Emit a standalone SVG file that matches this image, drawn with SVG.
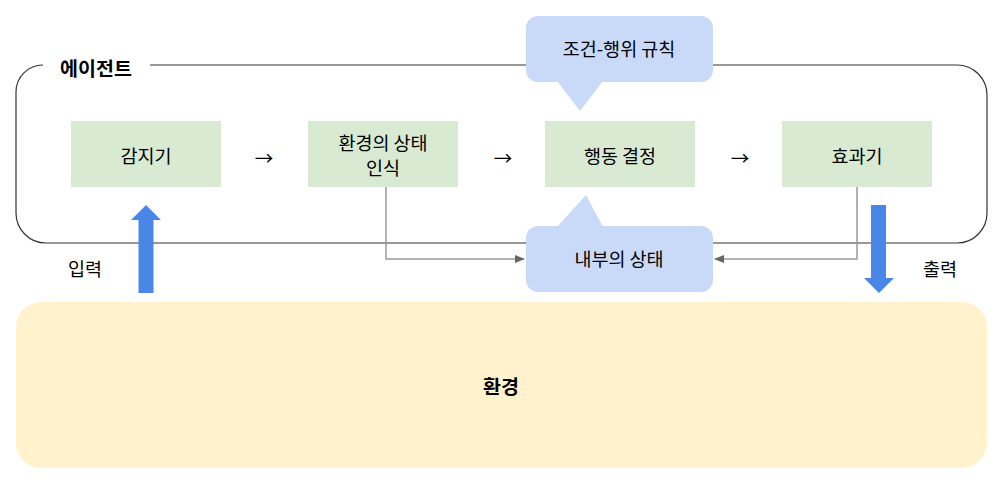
<svg xmlns="http://www.w3.org/2000/svg" width="1002" height="486" viewBox="0 0 1002 486">
<style>
text{font-family:"Noto Sans CJK KR","Noto Sans",sans-serif;font-size:18.5px;fill:#000;text-anchor:middle;dominant-baseline:central}
.b{font-weight:bold;font-size:19.5px}
.node{fill:#d9ead3}
.call{fill:#c9daf8}
.conn{fill:none;stroke:#999;stroke-width:1.5}
.big{fill:#4a86e8}
</style>
<defs>
<marker id="ah" markerWidth="10" markerHeight="8" refX="9" refY="4" orient="auto" markerUnits="userSpaceOnUse">
<path d="M0,0 L10,4 L0,8 z" fill="#666"/>
</marker>
</defs>
<g id="environment">
<rect x="16" y="302" width="971" height="166" rx="25" fill="#fff2cc"/>
<text class="b" x="501" y="385">환경</text>
</g>
<g id="agent">
<path d="M43,65 A27,27 0 0 0 16,92 V213 A30,30 0 0 0 46,243 H957 A30,30 0 0 0 987,213 V95 A30,30 0 0 0 957,65 H150" fill="none" stroke="#333" stroke-width="1.2"/>
<text class="b" x="96" y="67">에이전트</text>
</g>
<g id="sensor"><rect class="node" x="71" y="121" width="150" height="66"/><text x="146" y="155">감지기</text></g>
<g id="perceive"><rect class="node" x="308" y="121" width="150" height="66"/><text x="383" y="142">환경의 상태</text><text x="383" y="167">인식</text></g>
<g id="decide"><rect class="node" x="545" y="121" width="150" height="66"/><text x="620" y="155">행동 결정</text></g>
<g id="effector"><rect class="node" x="782" y="121" width="150" height="66"/><text x="857" y="155">효과기</text></g>
<g id="rules">
<rect class="call" x="526" y="16" width="187" height="66" rx="12"/>
<path class="call" d="M557,81 L580,111 L603,81 z"/>
<text x="619" y="48">조건-행위 규칙</text>
</g>
<g id="state">
<rect class="call" x="526" y="226" width="187" height="66" rx="12"/>
<path class="call" d="M557,227 L586,195 L603,227 z"/>
<text x="619" y="258">내부의 상태</text>
</g>
<g id="connectors">
<text x="264" y="157">→</text>
<text x="503" y="157">→</text>
<text x="740" y="157">→</text>
<path class="conn" d="M386,187 V259 H524" marker-end="url(#ah)"/>
<path class="conn" d="M857,187 V259 H715" marker-end="url(#ah)"/>
<path class="big" d="M138.5,293 V220 H131 L146,205 L161,220 H153.5 V293 z"/>
<path class="big" d="M871,205 V278 H864 L879,293 L894,278 H886 V205 z"/>
<text x="85" y="268">입력</text>
<text x="940" y="268">출력</text>
</g>
</svg>
